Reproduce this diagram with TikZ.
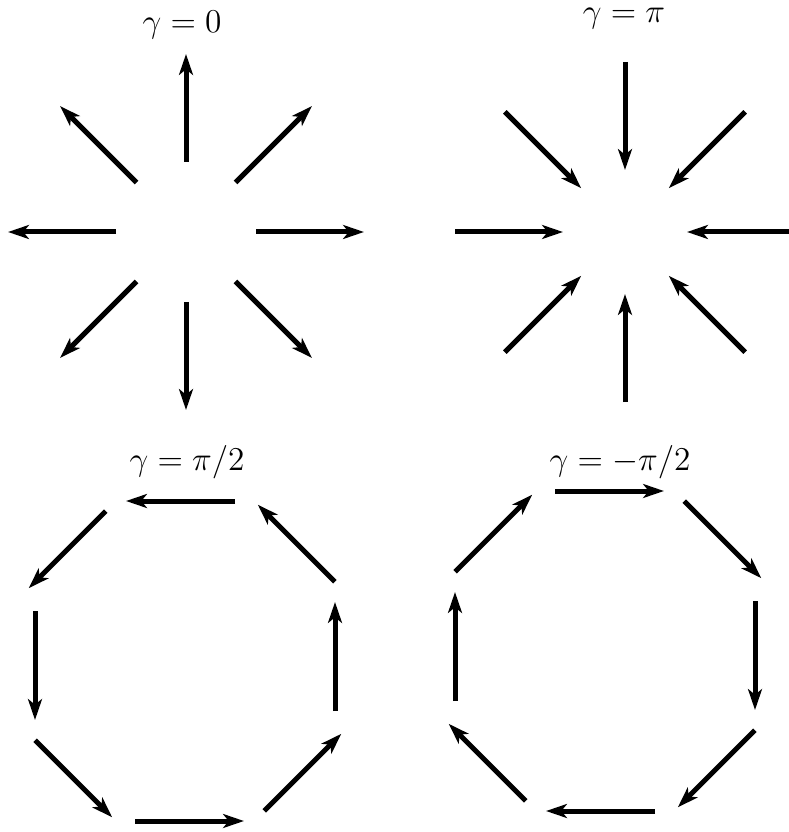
\documentclass[tikz,border=0pt]{standalone}
\usepackage{amsmath,amssymb}
\usepackage{tikz}
\usetikzlibrary{arrows.meta}

\begin{document}
\begin{tikzpicture}[
    x=0.36pt, y=0.36pt,
    vec/.style={-{Stealth[length=7.5pt, width=5pt, inset=2pt]}, line width=1.8pt},
    gammalabel/.style={anchor=base, inner sep=0pt, font=\fontsize{11.5}{14}\selectfont}
]
\useasboundingbox (0,0) rectangle (788,-832);

\node[gammalabel] (Gzero) at (182,-33) {$\gamma = 0$};
\node[gammalabel] (Gpi) at (624,-23) {$\gamma = \pi$};
\node[gammalabel] (Gplus) at (187,-470) {$\gamma = \pi/2$};
\node[gammalabel] (Gminus) at (620,-470) {$\gamma = -\pi/2$};

% outward
\begin{scope}[shift={(186,-232)}]
\foreach \a in {0,45,...,315}
    \draw[vec] (\a:70) -- (\a:178);
\end{scope}

% inward
\begin{scope}[shift={(625,-232)}]
\foreach \a in {0,45,...,315}
    \draw[vec] (\a:170) -- (\a:62);
\end{scope}

% counterclockwise
\begin{scope}[shift={(185,-661)}]
\foreach \a/\r in {0/150,45/162,90/160,135/162,180/150,225/162,270/160,315/162}
    \draw[vec] ([shift={(\a:\r)}]\a-90:50) -- ([shift={(\a:\r)}]\a+90:59);
\end{scope}

% clockwise
\begin{scope}[shift={(605,-651)}]
\foreach \a/\r in {0/150,45/162,90/160,135/162,180/150,225/162,270/160,315/162}
    \draw[vec] ([shift={(\a:\r)}]\a+90:50) -- ([shift={(\a:\r)}]\a-90:59);
\end{scope}
\end{tikzpicture}
\end{document}
